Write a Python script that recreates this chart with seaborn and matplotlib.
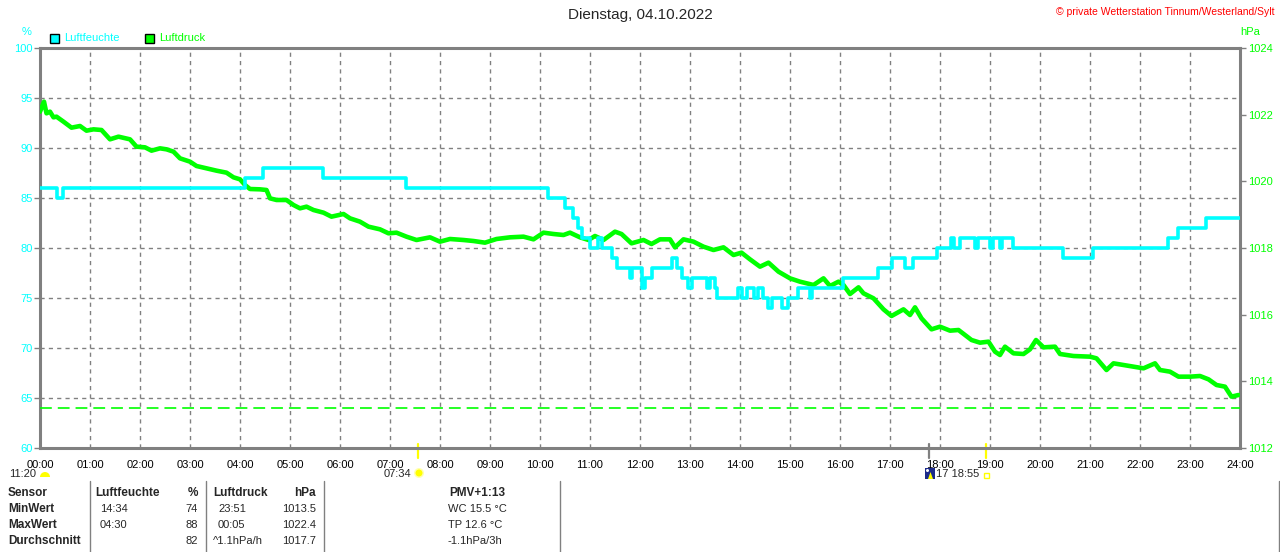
import matplotlib
matplotlib.use('Agg')
import matplotlib.pyplot as plt
import matplotlib.patches as mpatches
import matplotlib.transforms as mtransforms
from matplotlib.lines import Line2D
import seaborn as sns

# --- Data (Dienstag, 04.10.2022) ---

# humidity in %, step changes (hour of day, value)
hum_hours = [0.00, 0.34, 0.46, 4.10, 4.46, 5.66, 7.32, 10.16, 10.50, 10.66,
             10.76, 10.84, 11.00, 11.16, 11.24, 11.44, 11.54, 11.80, 11.84, 12.04,
             12.10, 12.24, 12.64, 12.74, 12.84, 12.96, 13.04, 13.34, 13.40, 13.50,
             13.54, 13.96, 14.04, 14.14, 14.28, 14.36, 14.46, 14.56, 14.64, 14.84,
             14.96, 15.16, 15.40, 15.44, 16.06, 16.76, 17.04, 17.30, 17.46, 17.94,
             18.22, 18.28, 18.40, 18.70, 18.76, 19.00, 19.06, 19.20, 19.24, 19.46,
             20.46, 21.06, 22.56, 22.76, 23.32, 24.00]
hum_values = [86, 85, 86, 87, 88, 87, 86, 85, 84, 83,
              82, 81, 80, 81, 80, 79, 78, 77, 78, 76,
              77, 78, 79, 78, 77, 76, 77, 76, 77, 76,
              75, 76, 75, 76, 75, 76, 75, 74, 75, 74,
              75, 76, 75, 76, 77, 78, 79, 78, 79, 80,
              81, 80, 81, 80, 81, 80, 81, 80, 81, 80,
              79, 80, 81, 82, 83, 83]

# air pressure in hPa (hour of day, value)
press_hours = [0.00, 0.08, 0.13, 0.20, 0.27, 0.33, 0.47, 0.63, 0.80, 0.93,
               1.07, 1.23, 1.40, 1.57, 1.80, 1.93, 2.10, 2.23, 2.40, 2.53,
               2.67, 2.80, 3.00, 3.13, 3.33, 3.53, 3.73, 3.87, 4.00, 4.10,
               4.20, 4.40, 4.53, 4.60, 4.73, 4.93, 5.07, 5.20, 5.33, 5.47,
               5.67, 5.83, 6.07, 6.20, 6.40, 6.57, 6.80, 6.97, 7.13, 7.33,
               7.53, 7.80, 8.00, 8.20, 8.47, 8.67, 8.90, 9.13, 9.40, 9.67,
               9.87, 10.07, 10.27, 10.47, 10.60, 10.80, 10.97, 11.10, 11.27, 11.50,
               11.63, 11.83, 12.07, 12.23, 12.40, 12.60, 12.70, 12.87, 13.07, 13.27,
               13.47, 13.67, 13.87, 14.03, 14.20, 14.40, 14.57, 14.77, 15.00, 15.20,
               15.47, 15.67, 15.80, 15.97, 16.07, 16.20, 16.37, 16.47, 16.67, 16.87,
               17.03, 17.27, 17.40, 17.50, 17.63, 17.83, 18.00, 18.20, 18.37, 18.50,
               18.63, 18.80, 18.97, 19.10, 19.20, 19.30, 19.47, 19.67, 19.80, 19.92,
               20.07, 20.30, 20.40, 20.67, 21.00, 21.13, 21.33, 21.47, 21.67, 21.87,
               22.07, 22.30, 22.40, 22.60, 22.77, 23.00, 23.20, 23.37, 23.53, 23.70,
               23.83, 23.97]
press_values = [1022.09, 1022.39, 1022.04, 1022.09, 1021.92, 1021.94, 1021.79, 1021.61, 1021.66, 1021.52,
                1021.56, 1021.54, 1021.26, 1021.34, 1021.26, 1021.04, 1021.02, 1020.92, 1020.99, 1020.96,
                1020.89, 1020.69, 1020.59, 1020.46, 1020.39, 1020.32, 1020.26, 1020.12, 1020.06, 1019.89,
                1019.77, 1019.76, 1019.74, 1019.49, 1019.44, 1019.44, 1019.29, 1019.19, 1019.24, 1019.14,
                1019.06, 1018.94, 1019.02, 1018.89, 1018.79, 1018.64, 1018.56, 1018.44, 1018.46, 1018.34,
                1018.24, 1018.32, 1018.19, 1018.27, 1018.24, 1018.21, 1018.16, 1018.27, 1018.32, 1018.34,
                1018.26, 1018.46, 1018.42, 1018.39, 1018.46, 1018.32, 1018.24, 1018.36, 1018.24, 1018.49,
                1018.42, 1018.14, 1018.24, 1018.12, 1018.26, 1018.26, 1018.02, 1018.26, 1018.19, 1018.04,
                1017.94, 1018.02, 1017.79, 1017.86, 1017.66, 1017.44, 1017.56, 1017.29, 1017.09, 1016.99,
                1016.89, 1017.09, 1016.86, 1016.99, 1016.89, 1016.62, 1016.82, 1016.64, 1016.49, 1016.16,
                1015.96, 1016.16, 1015.99, 1016.22, 1015.89, 1015.56, 1015.64, 1015.52, 1015.54, 1015.39,
                1015.24, 1015.16, 1015.19, 1014.89, 1014.79, 1015.04, 1014.84, 1014.82, 1014.96, 1015.24,
                1015.02, 1015.04, 1014.82, 1014.76, 1014.74, 1014.69, 1014.34, 1014.54, 1014.49, 1014.44,
                1014.39, 1014.54, 1014.34, 1014.29, 1014.14, 1014.14, 1014.16, 1014.06, 1013.89, 1013.84,
                1013.54, 1013.59]

press_alarm = 1013.2

hum_ticks = [60, 65, 70, 75, 80, 85, 90, 95, 100]
press_ticks = [1012, 1014, 1016, 1018, 1020, 1022, 1024]
hour_ticks = list(range(25))
hour_labels = ['%02d:00' % h for h in hour_ticks]

# sun / moon events (hour of day)
sunrise_h = 7 + 34 / 60
sunset_h = 18 + 55 / 60
moon_h = 17.78

table_rows = [
    ['Sensor', 'Luftfeuchte', '%', 'Luftdruck', 'hPa', 'PMV+1:13'],
    ['MinWert', '14:34', '74', '23:51', '1013.5', 'WC 15.5 °C'],
    ['MaxWert', '04:30', '88', '00:05', '1022.4', 'TP 12.6 °C'],
    ['Durchschnitt', '', '82', '^1.1hPa/h', '1017.7', '-1.1hPa/3h'],
]

# --- Styling ---

CYAN = '#00ffff'
GREEN = '#00ff00'
GRAY = '#808080'
YELLOW = '#ffff00'

sns.set_style('white')
plt.rcParams['font.family'] = ['Liberation Sans', 'DejaVu Sans']
plt.rcParams['lines.scale_dashes'] = False

W, H = 1280, 552
fig = plt.figure(figsize=(W / 100, H / 100), dpi=100)
fig.patch.set_facecolor('white')
px = mtransforms.IdentityTransform()  # pixel coords, origin bottom-left


def fx(x):
    return x / W


def fy(y):
    return 1 - y / H


ax = fig.add_axes([fx(40), fy(448), 1200 / W, 400 / H])
ax.set_xlim(0, 24)
ax.set_ylim(60, 100)
ax.set_xticks(hour_ticks)
ax.set_xticklabels(hour_labels)
ax.set_yticks(hum_ticks)
ax.grid(True, color=GRAY, linewidth=1, dashes=(3, 3))
ax.tick_params(axis='y', direction='out', length=4, width=1, color=GRAY,
               labelcolor=CYAN, labelsize=8, pad=1)
ax.tick_params(axis='x', length=0, pad=9, labelsize=8, labelcolor='black')
for sp in ax.spines.values():
    sp.set_visible(True)
    sp.set_color(GRAY)
    sp.set_linewidth(2.2)

# pressure on its own scale
ax_p = ax.twinx()
ax_p.set_ylim(1012, 1024)
ax_p.set_yticks(press_ticks)
ax_p.tick_params(axis='y', direction='out', length=4, width=1, color=GRAY,
                 labelcolor=GREEN, labelsize=8, pad=2)
sns.lineplot(x=press_hours, y=press_values, ax=ax_p, color=GREEN,
             linewidth=3.3, legend=False)
ax_p.axhline(press_alarm, color=GREEN, linewidth=1.2, dashes=(8.5, 4.3))
ax_p.set_ylabel('')

# humidity drawn on top
ax_h = ax.twinx()
ax_h.set_ylim(60, 100)
ax_h.set_yticks([])
sns.lineplot(x=hum_hours, y=hum_values, ax=ax_h, color=CYAN,
             linewidth=2.6, drawstyle='steps-post', legend=False)
ax_h.set_ylabel('')
for a in (ax_p, ax_h):
    a.set_xlim(0, 24)
    for sp in a.spines.values():
        sp.set_visible(False)

# --- Header ---
fig.text(0.5, fy(15), 'Dienstag, 04.10.2022', ha='center', va='center', fontsize=11)
fig.text(fx(1275), fy(12), '© private Wetterstation Tinnum/Westerland/Sylt',
         ha='right', va='center', fontsize=7.5, color='red')
fig.text(fx(27), fy(32), '%', ha='center', va='center', fontsize=8, color=CYAN)
fig.text(fx(1250), fy(32), 'hPa', ha='center', va='center', fontsize=8, color=GREEN)
fig.add_artist(mpatches.Rectangle((50, H - 43), 9, 9, transform=px,
                                  facecolor=CYAN, edgecolor='black', linewidth=1))
fig.text(fx(64), fy(38), 'Luftfeuchte', va='center', fontsize=8, color=CYAN)
fig.add_artist(mpatches.Rectangle((145, H - 43), 9, 9, transform=px,
                                  facecolor=GREEN, edgecolor='black', linewidth=1))
fig.text(fx(159), fy(38), 'Luftdruck', va='center', fontsize=8, color=GREEN)

# --- Sun / moon markers under the time axis ---
trans = mtransforms.blended_transform_factory(ax.transData, ax.transAxes)
for h, c in [(sunrise_h, YELLOW), (moon_h, GRAY), (sunset_h, YELLOW)]:
    ax.plot([h, h], [0.01, -0.025], color=c, linewidth=1.6, transform=trans, clip_on=False)

fig.text(fx(9), fy(474), '11:20', va='center', fontsize=8)
fig.add_artist(mpatches.Wedge((45, H - 477), 5, 0, 180, transform=px,
                              facecolor=YELLOW, edgecolor='none'))
fig.text(fx(411), fy(474), '07:34', ha='right', va='center', fontsize=8)
fig.add_artist(mpatches.Circle((419, H - 473), 5, transform=px,
                               facecolor='#ffffb0', edgecolor='none'))
fig.add_artist(mpatches.Circle((419, H - 473), 3.5, transform=px,
                               facecolor=YELLOW, edgecolor='none'))
fig.add_artist(mpatches.Rectangle((925, H - 479), 10, 11, transform=px,
                                  facecolor='#1c2a8a', edgecolor='none'))
fig.add_artist(mpatches.Circle((927.5, H - 470.5), 1.5, transform=px,
                               facecolor='white', edgecolor='none'))
fig.add_artist(mpatches.Polygon([(928, H - 479), (933, H - 479), (930.5, H - 472)],
                                transform=px, facecolor=YELLOW, edgecolor='none'))
fig.text(fx(936), fy(474), '17 18:55', va='center', fontsize=8)
fig.add_artist(mpatches.Rectangle((983.5, H - 477.5), 5, 5, transform=px,
                                  facecolor='white', edgecolor=YELLOW, linewidth=1))

# --- Statistics table ---
row_y = [493, 509, 525, 541]
col_x = [8, 100, 198, 218, 316, 448]
col_ha = ['left', 'left', 'right', 'left', 'right', 'left']
for r, row in enumerate(table_rows):
    for c, txt in enumerate(row):
        x = col_x[c]
        ha = col_ha[c]
        bold = (r == 0) or (c == 0)
        if r == 0 and c == 1:
            x = 95
        if r == 0 and c == 3:
            x = 213
        if r == 3 and c == 3:
            x = 213
        if r == 0 and c == 5:
            x, ha = 477, 'center'
        fig.text(fx(x), fy(row_y[r]), txt, ha=ha, va='center', fontsize=8.5 if bold else 8,
                 fontweight='bold' if bold else 'normal')

for x in [89.5, 205.5, 323.5, 559.5, 1278.5]:
    fig.add_artist(Line2D([x, x], [H - 481, 0], color=GRAY, linewidth=1, transform=px))

fig.savefig('out.png', dpi=100, facecolor='white')
